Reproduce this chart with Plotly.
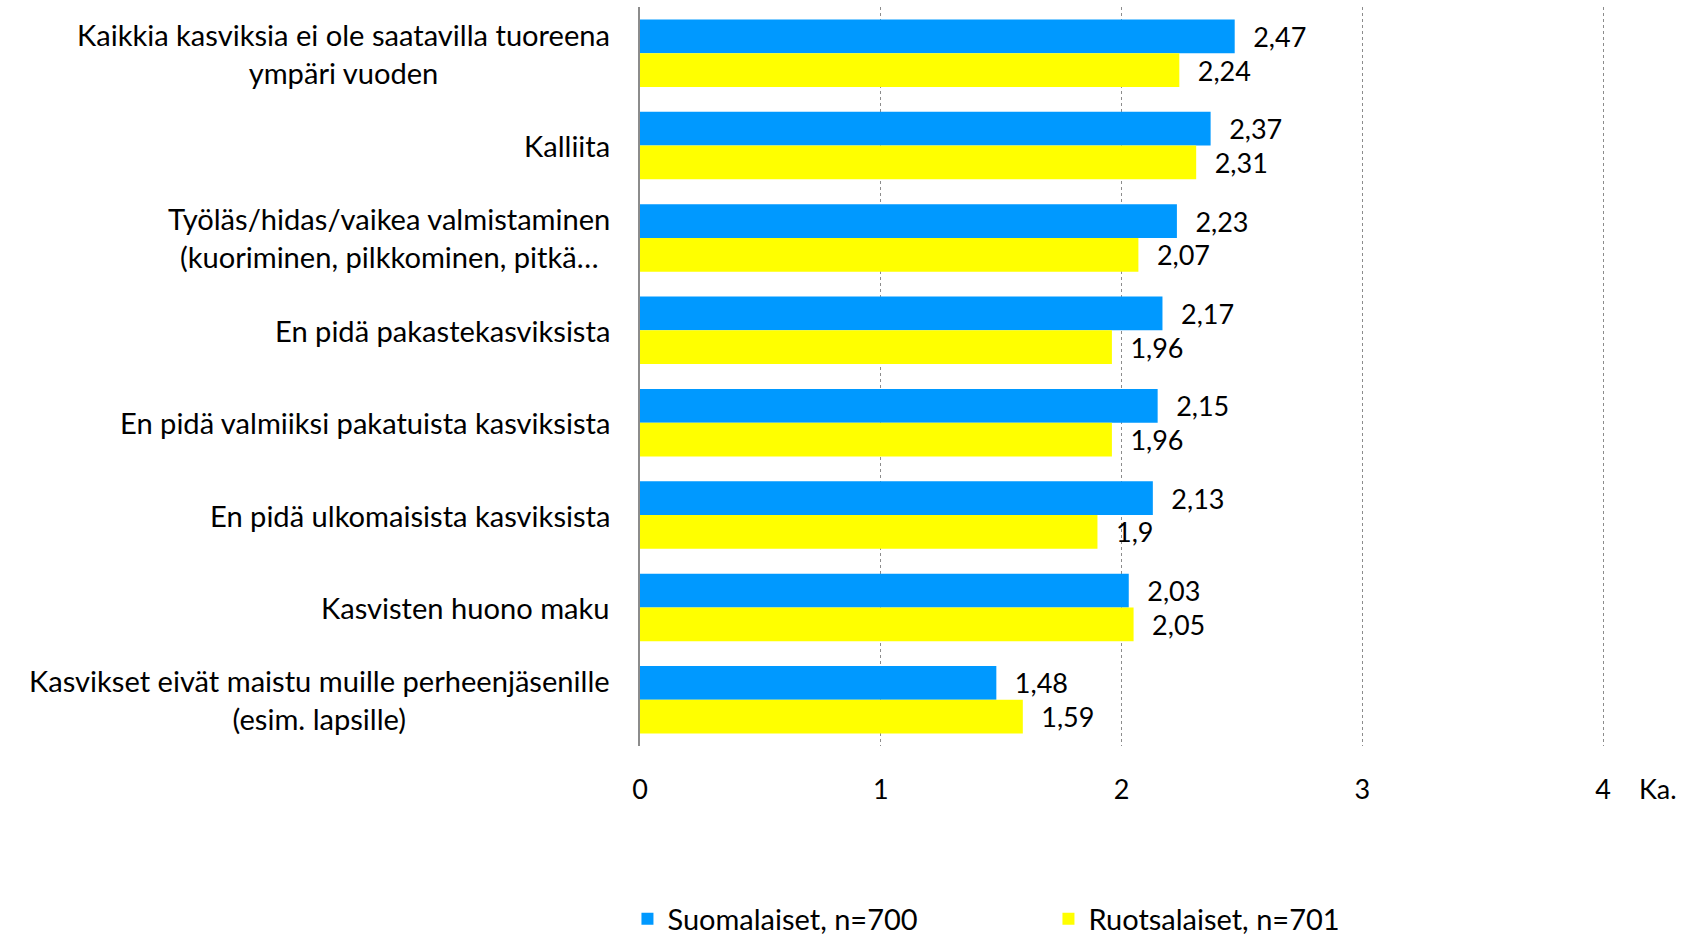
import plotly.graph_objects as go

categories = [
    "Kaikkia kasviksia ei ole saatavilla tuoreena<br>ympäri vuoden",
    "Kalliita",
    "Työläs/hidas/vaikea valmistaminen<br>(kuoriminen, pilkkominen, pitkä…",
    "En pidä pakastekasviksista",
    "En pidä valmiiksi pakatuista kasviksista",
    "En pidä ulkomaisista kasviksista",
    "Kasvisten huono maku",
    "Kasvikset eivät maistu muille perheenjäsenille<br>(esim. lapsille)",
]
suomalaiset = [2.47, 2.37, 2.23, 2.17, 2.15, 2.13, 2.03, 1.48]
ruotsalaiset = [2.24, 2.31, 2.07, 1.96, 1.96, 1.90, 2.05, 1.59]
series_names = ["Suomalaiset, n=700", "Ruotsalaiset, n=701"]
x_ticks = [0, 1, 2, 3, 4]
x_unit_label = "Ka."

FONT = "Lato"
FS_CAT = 29.1
FS_VAL = 27
FS_LEG = 29
pad = "\u00a0\u00a0\u200a"

def fmt(v):
    s = f"{v:.2f}".rstrip("0").rstrip(".")
    return s.replace(".", ",")

fig = go.Figure()
for name, vals, col in [(series_names[0], suomalaiset, "#0099FF"),
                        (series_names[1], ruotsalaiset, "#FFFF00")]:
    fig.add_trace(go.Bar(
        y=categories, x=vals, orientation="h", name=name,
        marker=dict(color=col, line=dict(width=0)),
        text=[pad + fmt(v) for v in vals],
        textposition="outside", cliponaxis=False, constraintext="none",
        textfont=dict(family=FONT, size=FS_VAL, color="black"),
    ))

for c in categories:
    fig.add_annotation(x=0, y=c, xref="x", yref="y", text=c, showarrow=False,
                       xanchor="right", yanchor="middle", align="center",
                       xshift=-28, font=dict(family=FONT, size=FS_CAT, color="black"))

fig.add_annotation(x=4, y=0, xref="x", yref="paper", xshift=55, yshift=-42,
                   text=x_unit_label, showarrow=False, xanchor="center", yanchor="middle",
                   font=dict(family=FONT, size=FS_VAL, color="black"))

fig.update_layout(
    width=1685, height=935,
    margin=dict(l=640, r=80, t=7, b=189, autoexpand=False),
    paper_bgcolor="white", plot_bgcolor="white",
    barmode="group", bargap=0.27, bargroupgap=0,
    font=dict(family=FONT, size=FS_VAL, color="black"),
    showlegend=True,
    legend=dict(orientation="h", x=-0.013, xanchor="left",
                y=1 - 919 / 935, yanchor="middle", yref="container",
                entrywidth=376, entrywidthmode="pixels",
                font=dict(family=FONT, size=FS_LEG, color="black"),
                itemwidth=30, traceorder="normal", bgcolor="rgba(0,0,0,0)"),
    xaxis=dict(range=[0, 4.008], tickvals=x_ticks, ticktext=[str(t) for t in x_ticks],
               showgrid=True, gridcolor="#8c8c8c", griddash="dot", gridwidth=1,
               zeroline=False, showline=False, ticks="", automargin=False,
               ticklabelstandoff=25,
               tickfont=dict(family=FONT, size=FS_VAL, color="black")),
    yaxis=dict(autorange="reversed", showticklabels=False, showgrid=False,
               showline=True, linecolor="#8c8c8c", linewidth=1.5, ticks="",
               zeroline=False, automargin=False),
)

fig.write_html("out.html", config={"displayModeBar": False},
               post_script="document.body.style.margin='0';document.body.style.overflow='hidden';")
